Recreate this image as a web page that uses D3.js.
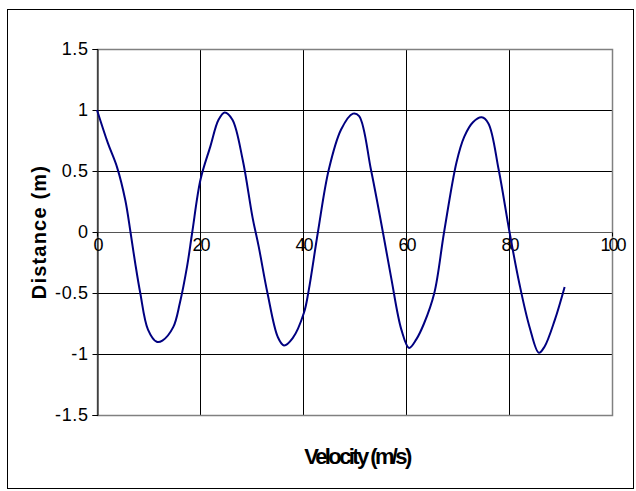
<!DOCTYPE html>
<html><head><meta charset="utf-8">
<script src="https://cdn.jsdelivr.net/npm/d3@7"></script>
<style>body{margin:0;background:#fff}svg{display:block}text{font-family:"Liberation Sans",Arial,sans-serif}</style>
</head><body><svg id="c" width="636" height="491"></svg>
<script>
const xTicks = [0, 20, 40, 60, 80, 100];
const yTicks = [-1.5, -1, -0.5, 0, 0.5, 1, 1.5];
const velocity = [0, 2.1, 3.9, 5.5, 6.5, 7.4, 8.4, 9.9, 11.6, 12.7, 14.8, 16.1, 17.5, 18.5, 20.1, 22, 23.6, 24.8, 26.3, 28.3, 30.2, 31.4, 33.1, 35.1, 36.3, 38.0, 40.2, 41.1, 42.9, 45, 47.4, 49.7, 50.9, 53.2, 55.2, 57.1, 59.1, 60.6, 62, 63.5, 65.5, 67.4, 69.8, 71.3, 73, 74.7, 76, 78, 80.1, 82, 84, 85.8, 86.9, 88.9, 90.8];
const distance = [1, 0.73, 0.53, 0.26, 0, -0.25, -0.5, -0.8, -0.9, -0.89, -0.78, -0.58, -0.28, 0, 0.43, 0.7, 0.92, 0.98, 0.92, 0.59, 0.12, -0.12, -0.5, -0.86, -0.93, -0.87, -0.66, -0.48, 0, 0.51, 0.84, 0.97, 0.95, 0.51, 0.07, -0.37, -0.8, -0.95, -0.88, -0.75, -0.5, 0, 0.57, 0.78, 0.9, 0.94, 0.89, 0.51, 0, -0.42, -0.78, -0.99, -0.94, -0.72, -0.45];

const svg = d3.select("#c");
const L = 97, R = 612, T = 49, B = 415;
const x = d3.scaleLinear().domain([0, 100]).range([L, R]);
const y = d3.scaleLinear().domain([-1.5, 1.5]).range([B, T]);

svg.append("rect").attr("x", 7.5).attr("y", 9.5).attr("width", 626).attr("height", 479)
  .attr("fill", "#fff").attr("stroke", "#000").attr("stroke-width", 1);

// gridlines
const g = svg.append("g");
yTicks.slice(1, -1).forEach(v => {
  g.append("line").attr("x1", L).attr("x2", R).attr("y1", Math.round(y(v)) + 0.5).attr("y2", Math.round(y(v)) + 0.5)
    .attr("stroke", v === 0 ? "#555" : "#000");
});
xTicks.slice(1, -1).forEach(v => {
  g.append("line").attr("y1", T).attr("y2", B).attr("x1", Math.round(x(v)) + 0.5).attr("x2", Math.round(x(v)) + 0.5)
    .attr("stroke", "#000");
});
// plot border
svg.append("rect").attr("x", L + 0.5).attr("y", T + 0.5).attr("width", R - L).attr("height", B - T)
  .attr("fill", "none").attr("stroke", "#808080").attr("stroke-width", 1.5);

// y axis
const yAxis = d3.axisLeft(y).tickValues(yTicks).tickSize(5).tickPadding(4).tickFormat(d => String(d));
const ya = svg.append("g").attr("transform", `translate(${L + 0.5},0)`).call(yAxis);
ya.select(".domain").attr("stroke", "#000");
ya.selectAll("line").attr("stroke", "#000");
ya.selectAll("text").attr("font-size", 18).attr("fill", "#000").attr("letter-spacing", 0.6)
  .attr("font-family", "'Liberation Sans', Arial, sans-serif");

// x axis at y=0
const xAxis = d3.axisBottom(x).tickValues(xTicks).tickSize(4).tickPadding(2).tickFormat(d => String(d));
const xa = svg.append("g").attr("transform", `translate(0,${Math.round(y(0)) + 0.5})`).call(xAxis);
xa.select(".domain").remove();
xa.selectAll("line").attr("stroke", "#000");
xa.selectAll("text").attr("font-size", 18).attr("fill", "#000").attr("letter-spacing", -2)
  .attr("font-family", "'Liberation Sans', Arial, sans-serif");

// curve
const pts = velocity.map((v, i) => [v, distance[i]]);
const line = d3.line().x(d => x(d[0])).y(d => y(d[1])).curve(d3.curveCatmullRom.alpha(0.5));
svg.append("path").attr("d", line(pts)).attr("fill", "none").attr("stroke", "#000080").attr("stroke-width", 2);

// titles
svg.append("text").attr("x", 357).attr("y", 464).attr("text-anchor", "middle")
  .attr("font-size", 22).attr("font-weight", "bold").attr("letter-spacing", -2.6).text("Velocity (m/s)");
svg.append("text").attr("transform", `translate(46,232) rotate(-90)`).attr("text-anchor", "middle")
  .attr("font-size", 20).attr("font-weight", "bold").attr("letter-spacing", 1.2).text("Distance (m)");
</script></body></html>
